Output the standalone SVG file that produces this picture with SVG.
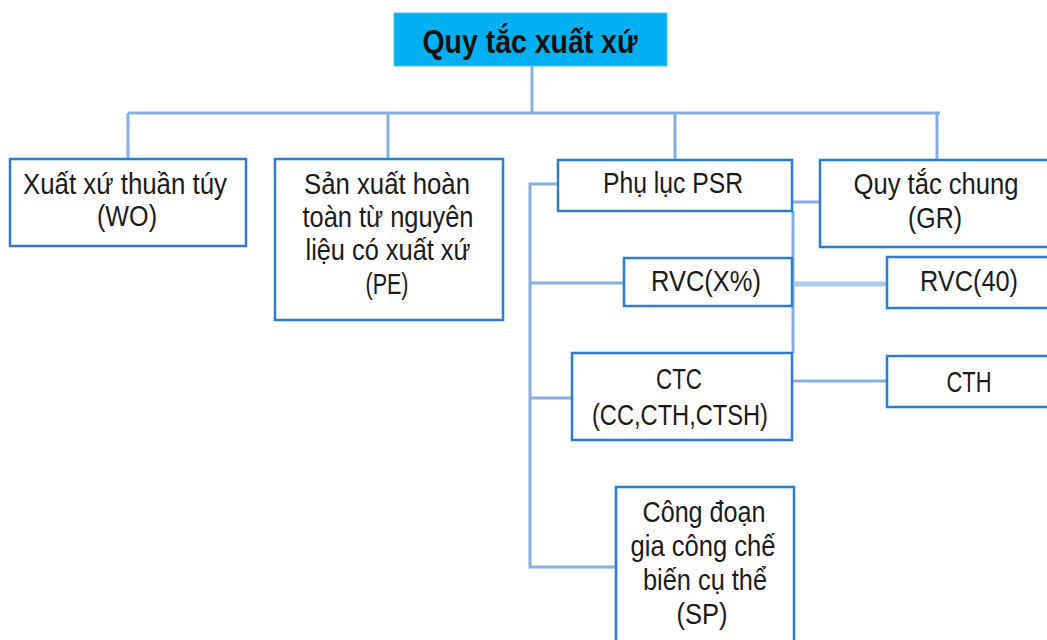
<svg xmlns="http://www.w3.org/2000/svg" width="1047" height="640" viewBox="0 0 1047 640" xml:space="preserve">
<style>
.box{fill:#ffffff;stroke:#2f7bd0;stroke-width:2.5}
.t{font-family:"Liberation Sans",Arial,sans-serif;font-size:29px;fill:#1a1a1a;text-anchor:middle}
.title{font-family:"Liberation Sans",Arial,sans-serif;font-size:33px;font-weight:bold;fill:#111;text-anchor:middle}
.c{fill:none;stroke:#86aee0;stroke-width:3}
</style>
<rect width="1047" height="640" fill="#ffffff"/>
<g id="connectors">
<path class="c" d="M532 66 V113 M128 113 H940 M128 113 V159 M388 113 V159 M675 113 V160 M937 113 V160"/>
<path class="c" d="M558 184 H530 V567 H616 M530 283 H624 M530 398 H572"/>
<path class="c" d="M793 211 V353 M793 202 H820 M793 381 H887"/>
<path d="M793 284 H887" fill="none" stroke="#a9c8ec" stroke-width="5"/>
</g>
<g id="n-title">
<rect x="394" y="13" width="273" height="53" fill="#00b0f0" stroke="#4fc3f0" stroke-width="1"/>
<text class="title" x="530" y="53" textLength="215" lengthAdjust="spacingAndGlyphs">Quy  tắc xuất xứ</text>
</g>
<g id="n-wo">
<rect class="box" x="10" y="159" width="236" height="87"/>
<text class="t" x="125" y="194" textLength="204" lengthAdjust="spacingAndGlyphs">Xuất xứ thuần túy</text>
<text class="t" x="127" y="226" textLength="60" lengthAdjust="spacingAndGlyphs">(WO)</text>
</g>
<g id="n-pe">
<rect class="box" x="275" y="159" width="228" height="161"/>
<text class="t" x="387" y="194" textLength="166" lengthAdjust="spacingAndGlyphs">Sản xuất hoàn</text>
<text class="t" x="388" y="227" textLength="171" lengthAdjust="spacingAndGlyphs">toàn từ nguyên</text>
<text class="t" x="388" y="260" textLength="165" lengthAdjust="spacingAndGlyphs">liệu  có xuất xứ</text>
<text class="t" x="387" y="294" textLength="43" lengthAdjust="spacingAndGlyphs">(PE)</text>
</g>
<g id="n-psr">
<rect class="box" x="558" y="160" width="234" height="51"/>
<text class="t" x="673" y="193" textLength="140" lengthAdjust="spacingAndGlyphs">Phụ  lục PSR</text>
</g>
<g id="n-gr">
<rect class="box" x="820" y="160" width="250" height="87"/>
<text class="t" x="936" y="194" textLength="165" lengthAdjust="spacingAndGlyphs">Quy tắc chung</text>
<text class="t" x="935" y="228" textLength="54" lengthAdjust="spacingAndGlyphs">(GR)</text>
</g>
<g id="n-rvcx">
<rect class="box" x="624" y="258" width="168" height="48"/>
<text class="t" x="706" y="291" textLength="110" lengthAdjust="spacingAndGlyphs">RVC(X%)</text>
</g>
<g id="n-rvc40">
<rect class="box" x="887" y="257" width="180" height="51"/>
<text class="t" x="969" y="291" textLength="98" lengthAdjust="spacingAndGlyphs">RVC(40)</text>
</g>
<g id="n-ctc">
<rect class="box" x="572" y="353" width="220" height="87"/>
<text class="t" x="679" y="389" textLength="46" lengthAdjust="spacingAndGlyphs">CTC</text>
<text class="t" x="680" y="425" textLength="176" lengthAdjust="spacingAndGlyphs">(CC,CTH,CTSH)</text>
</g>
<g id="n-cth">
<rect class="box" x="887" y="356" width="180" height="51"/>
<text class="t" x="969" y="392" textLength="45" lengthAdjust="spacingAndGlyphs">CTH</text>
</g>
<g id="n-sp">
<rect class="box" x="616" y="487" width="178" height="170"/>
<text class="t" x="704" y="522" textLength="123" lengthAdjust="spacingAndGlyphs">Công đoạn</text>
<text class="t" x="703" y="556" textLength="145" lengthAdjust="spacingAndGlyphs">gia công chế</text>
<text class="t" x="705" y="590" textLength="124" lengthAdjust="spacingAndGlyphs">biến cụ thể</text>
<text class="t" x="702" y="624" textLength="51" lengthAdjust="spacingAndGlyphs">(SP)</text>
</g>
</svg>
